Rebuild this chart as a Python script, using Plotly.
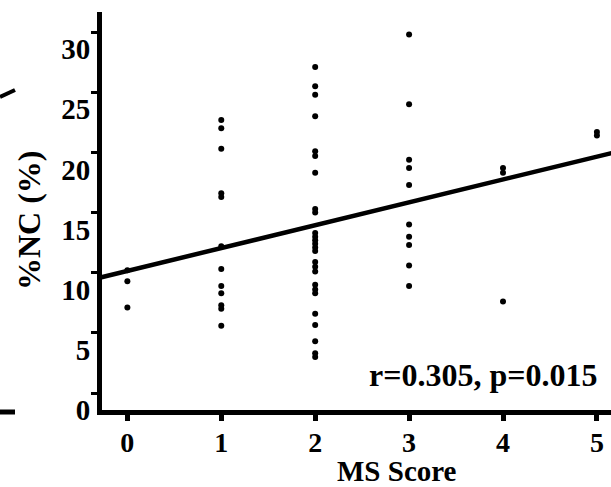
import plotly.graph_objects as go

# ---- data ----
ms_score_0 = [10.2, 9.3, 7.1]
ms_score_1 = [22.7, 22.0, 20.3, 16.6, 16.3, 12.2, 10.3, 8.9, 8.3, 7.3, 7.0, 5.6]
ms_score_2 = [27.1, 25.5, 24.8, 23.0, 20.1, 19.7, 18.3, 15.3, 15.0, 13.3, 13.0,
              12.7, 12.4, 12.1, 11.8, 10.9, 10.5, 10.1, 9.0, 8.6, 8.3, 6.6,
              5.65, 4.3, 3.3, 3.0]
ms_score_3 = [29.8, 24.0, 19.4, 18.7, 17.3, 14.0, 13.0, 12.3, 10.6, 8.9]
ms_score_4 = [18.7, 18.3, 7.6]
ms_score_5 = [21.7, 21.4]

groups = [ms_score_0, ms_score_1, ms_score_2, ms_score_3, ms_score_4, ms_score_5]

fit_intercept = 10.15
fit_slope = 1.9
fit_x = [-0.3, 5.2]

x_ticks = [0, 1, 2, 3, 4, 5]
y_ticks = [0, 5, 10, 15, 20, 25, 30]

stat_text = "r=0.305, p=0.015"
x_title = "MS Score"
y_title = "%NC (%)"

# ---- build ----
xs, ys = [], []
for score, vals in zip(x_ticks, groups):
    xs += [score] * len(vals)
    ys += vals

fit_y = [fit_intercept + fit_slope * v for v in fit_x]

FONT = "Liberation Serif, Times New Roman, serif"
W, H = 611, 487
ML, MR, MT, MB = 102, 0, 12, 77
PW, PH = W - ML - MR, H - MT - MB


def px(xp):
    return (xp - ML) / PW


def py(yp):
    return (H - MB - yp) / PH


def bold(s):
    return "<b>" + s + "</b>"


def tfont(size):
    return dict(family=FONT, size=size, color="black", weight=700)


fig = go.Figure()
fig.add_trace(go.Scatter(x=fit_x, y=fit_y, mode="lines",
                         line=dict(color="black", width=4.5),
                         hoverinfo="skip", showlegend=False))
fig.add_trace(go.Scatter(x=xs, y=ys, mode="markers",
                         marker=dict(color="black", size=6),
                         showlegend=False))

fig.update_layout(
    template="none",
    width=W, height=H,
    margin=dict(l=ML, r=MR, t=MT, b=MB, pad=0, autoexpand=False),
    paper_bgcolor="white", plot_bgcolor="white",
    showlegend=False,
    xaxis=dict(range=[-0.27, 5.15], tickvals=x_ticks,
               ticktext=[bold(str(v)) for v in x_ticks],
               automargin=False,
               showgrid=False, zeroline=False,
               showline=True, linecolor="black", linewidth=5,
               ticks="outside", ticklen=6, tickwidth=5, tickcolor="black",
               tickfont=tfont(28),
               ticklabelstandoff=-3),
    yaxis=dict(range=[-1.41, 31.67], tickvals=y_ticks,
               ticktext=[bold(str(v)) for v in y_ticks],
               automargin=False,
               showgrid=False, zeroline=False,
               showline=True, linecolor="black", linewidth=5,
               ticks="outside", ticklen=6, tickwidth=3, tickcolor="black",
               tickfont=tfont(29),
               ticklabelshift=17, ticklabelstandoff=-5),
)

fig.add_annotation(text=bold(stat_text), xref="x", yref="y", x=3.79, y=1.5,
                   showarrow=False, xanchor="center", yanchor="middle",
                   font=tfont(32))
fig.add_annotation(text=bold(x_title), xref="paper", yref="paper",
                   x=px(397), y=py(471), showarrow=False,
                   xanchor="center", yanchor="middle",
                   font=tfont(29))
fig.add_annotation(text=bold(y_title), xref="paper", yref="paper",
                   x=px(29), y=py(220), showarrow=False, textangle=-90,
                   xanchor="center", yanchor="middle",
                   font=tfont(32))

# fragments of the neighbouring panel visible at the left edge
fig.add_shape(type="line", xref="paper", yref="paper",
              x0=px(0), y0=py(97), x1=px(15), y1=py(90),
              line=dict(color="black", width=4))
fig.add_shape(type="line", xref="paper", yref="paper",
              x0=px(0), y0=py(412), x1=px(15), y1=py(412),
              line=dict(color="black", width=5))

fig.write_html(
    "out.html",
    config={"displayModeBar": False},
    post_script="document.body.style.margin='0px';document.body.style.padding='0px';",
)
